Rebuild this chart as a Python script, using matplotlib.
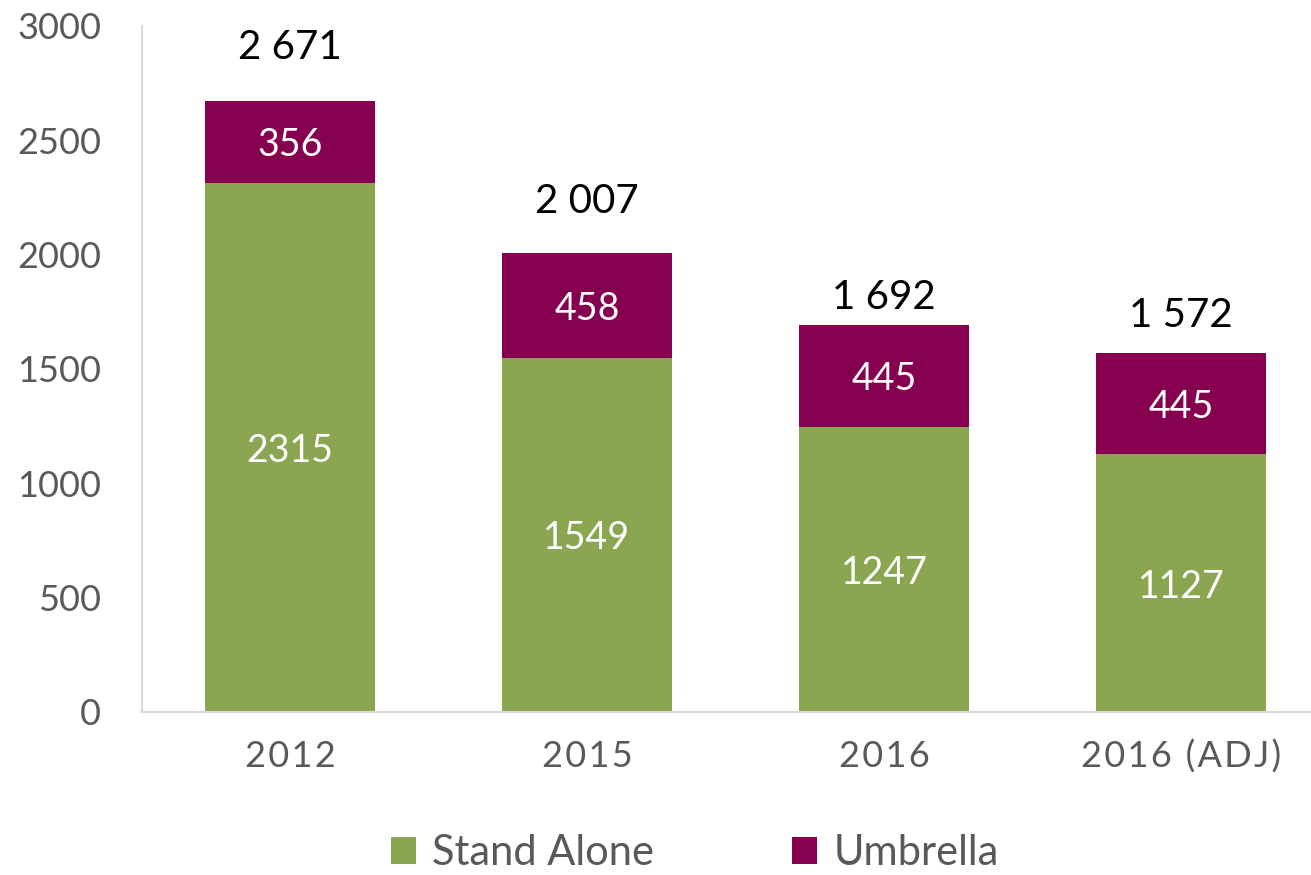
import numpy as np
import matplotlib.pyplot as plt

years = ["2012", "2015", "2016", "2016 (ADJ)"]
stand_alone = [2315, 1549, 1247, 1127]
umbrella = [356, 458, 445, 445]
totals = [2671, 2007, 1692, 1572]

green = "#8BA650"
maroon = "#86004F"
grey = "#595959"

plt.rcParams["font.family"] = ["Lato", "DejaVu Sans"]

fig = plt.figure(figsize=(13.11, 8.75), dpi=100)
ax = fig.add_axes([0.108, 0.1863, 0.906, 0.784])

x = np.arange(len(years))
w = 0.572
b1 = ax.bar(x, stand_alone, w, color=green, label="Stand Alone")
b2 = ax.bar(x, umbrella, w, bottom=stand_alone, color=maroon, label="Umbrella")

for xi, s, u in zip(x, stand_alone, umbrella):
    ax.text(xi, s / 2, str(s), ha="center", va="center_baseline", color="white", fontsize=27)
    ax.text(xi, s + u / 2, str(u), ha="center", va="center_baseline", color="white", fontsize=27)

# Excel puts the total labels at slightly different heights
lift = [39, 37, 20, 27]
for xi, t, d in zip(x, totals, lift):
    ax.annotate("{:,}".format(t).replace(",", " "), xy=(xi, t),
                xytext=(0, d), textcoords="offset points",
                ha="center", va="center", fontsize=29, color="black")

# letter-spaced category labels like the original
spaced = ["\u200a".join(y) for y in years]

ax.set_xlim(-0.5, 3.5)
ax.set_ylim(0, 3000)
ax.set_yticks(range(0, 3001, 500))
ax.set_xticks(x)
ax.set_xticklabels(spaced)
ax.tick_params(axis="y", length=0, labelsize=26, colors=grey, pad=29)
ax.tick_params(axis="x", length=0, labelsize=26, colors=grey, pad=20)

for s in ["top", "right"]:
    ax.spines[s].set_visible(False)
ax.spines["left"].set_color("#D9D9D9")
ax.spines["bottom"].set_color("#D9D9D9")
ax.spines["left"].set_linewidth(1.5)
ax.spines["bottom"].set_linewidth(1.5)

fig.legend(handles=[b1, b2], loc="center", bbox_to_anchor=(0.53, 0.025),
           ncol=2, frameon=False, fontsize=30, handlelength=0.6,
           handleheight=0.6, handletextpad=0.4, columnspacing=3.3,
           labelcolor=grey)

fig.savefig("out.png", dpi=100)
